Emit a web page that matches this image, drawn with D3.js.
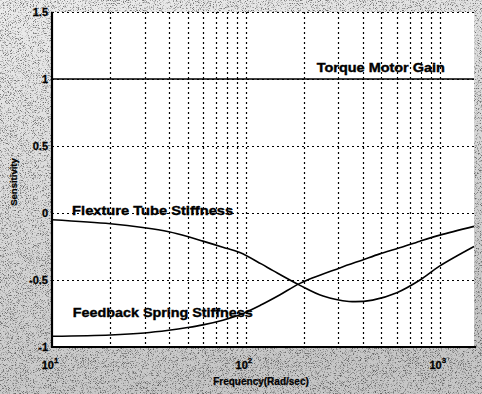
<!DOCTYPE html>
<html>
<head>
<meta charset="utf-8">
<script src="https://cdn.jsdelivr.net/npm/d3@7"></script>
<style>
  html, body { margin: 0; padding: 0; background: #d4d4d4; }
  svg { display: block; }
  text { font-family: "Liberation Sans", Arial, sans-serif; font-weight: bold; fill: #000; }
</style>
</head>
<body>
<svg id="chart" width="482" height="394"></svg>
<script>
// Sensitivity of the servo-valve gain to each parameter versus frequency
const flexFreq = [10, 20, 30, 40, 50, 60, 76, 93, 120, 138, 190, 250, 340, 450, 600, 790, 1000, 1500];
const flexVals = [-0.05, -0.08, -0.11, -0.14, -0.175, -0.21, -0.255, -0.295, -0.38, -0.43, -0.54, -0.62, -0.66, -0.65, -0.595, -0.50, -0.395, -0.25];

const springFreq = [10, 20, 30, 40, 50, 60, 76, 93, 120, 150, 190, 305, 400, 490, 620, 790, 1000, 1500];
const springVals = [-0.92, -0.91, -0.895, -0.875, -0.855, -0.835, -0.80, -0.76, -0.685, -0.61, -0.525, -0.41, -0.35, -0.305, -0.26, -0.21, -0.165, -0.10];

const torqueFreq = [10, 1500];
const torqueVals = [1, 1];

const yTicks = [1.5, 1, 0.5, 0, -0.5, -1];
const yTickLabels = ["1.5", "1", "0.5", "0", "-0.5", "-1"];
const xDecades = [10, 100, 1000];
const xDecadeExp = ["1", "2", "3"];
const xGrid = [20, 30, 40, 50, 60, 70, 80, 90, 100, 200, 300, 400, 500, 600, 700, 800, 900, 1000];

const seriesLabels = [
  { text: "Torque Motor Gain", f: 232, v: 1.052, w: 128 },
  { text: "Flexture Tube Stiffness", f: 12.7, v: -0.015, w: 161 },
  { text: "Feedback Spring Stiffness", f: 12.8, v: -0.776, w: 180 }
];

const svg = d3.select("#chart");
const W = 482, H = 394;
const m = { left: 52, right: 474, top: 12, bottom: 347 };

const x = d3.scaleLog().domain([10, 1500]).range([m.left, m.right]);
const y = d3.scaleLinear().domain([-1, 1.5]).range([m.bottom, m.top]);

// figure background with a grainy grey tone
const defs = svg.append("defs");
const grad = defs.append("linearGradient").attr("id", "bg").attr("x1", 0).attr("y1", 0).attr("x2", 0.3).attr("y2", 1);
grad.append("stop").attr("offset", "0").attr("stop-color", "#ececec");
grad.append("stop").attr("offset", "1").attr("stop-color", "#c6c6c6");
const grain = defs.append("filter").attr("id", "grain").attr("x", 0).attr("y", 0).attr("width", 1).attr("height", 1);
grain.append("feTurbulence").attr("type", "fractalNoise").attr("baseFrequency", 1.4).attr("numOctaves", 1).attr("seed", 7).attr("result", "n");
grain.append("feColorMatrix").attr("in", "n").attr("type", "matrix")
  .attr("values", "0 0 0 0 0  0 0 0 0 0  0 0 0 0 0  5 0 0 0 -2.6");

svg.append("rect").attr("width", W).attr("height", H).attr("fill", "url(#bg)");
svg.append("rect").attr("width", W).attr("height", H).attr("filter", "url(#grain)").attr("opacity", 0.5);

// plotting area
svg.append("rect")
  .attr("x", m.left).attr("y", m.top)
  .attr("width", m.right - m.left).attr("height", m.bottom - m.top)
  .attr("fill", "#fff");

// dotted grid
const grid = svg.append("g").attr("stroke", "#000").attr("stroke-width", 1.2).attr("stroke-dasharray", "2,3");
grid.selectAll("line.v").data(xGrid).join("line")
  .attr("x1", d => Math.round(x(d)) + 0.5).attr("x2", d => Math.round(x(d)) + 0.5)
  .attr("y1", m.top).attr("y2", m.bottom);
grid.selectAll("line.h").data(yTicks.filter(d => d > -1)).join("line")
  .attr("x1", m.left).attr("x2", m.right)
  .attr("y1", d => Math.round(y(d)) + 0.5).attr("y2", d => Math.round(y(d)) + 0.5);

// curves
const line = d3.line().x(d => x(d[0])).y(d => y(d[1])).curve(d3.curveCatmullRom.alpha(0.5));
const curves = [
  d3.zip(torqueFreq, torqueVals),
  d3.zip(flexFreq, flexVals),
  d3.zip(springFreq, springVals)
];
svg.append("g").selectAll("path").data(curves).join("path")
  .attr("d", line).attr("fill", "none").attr("stroke", "#000").attr("stroke-width", 1.6);

// axes lines
svg.append("line").attr("x1", m.left).attr("x2", m.left).attr("y1", m.top).attr("y2", m.bottom + 1)
  .attr("stroke", "#000").attr("stroke-width", 2.2);
svg.append("line").attr("x1", m.left - 1).attr("x2", m.right + 2).attr("y1", m.bottom).attr("y2", m.bottom)
  .attr("stroke", "#000").attr("stroke-width", 2.2);

// y tick labels
svg.append("g").selectAll("text").data(yTicks).join("text")
  .attr("x", m.left - 4).attr("y", d => y(d) + 4)
  .attr("text-anchor", "end").attr("font-size", 11)
  .attr("stroke", "#000").attr("stroke-width", 0.3)
  .text((d, i) => yTickLabels[i]);

// x tick labels, powers of ten
const xl = svg.append("g").selectAll("text").data(xDecades).join("text")
  .attr("x", d => x(d) - 2).attr("y", 369)
  .attr("text-anchor", "middle").attr("font-size", 11)
  .attr("stroke", "#000").attr("stroke-width", 0.3);
xl.append("tspan").text("10");
xl.append("tspan").attr("font-size", 8).attr("dy", -6).text((d, i) => xDecadeExp[i]);

// axis titles
svg.append("text").attr("x", 261).attr("y", 385).attr("text-anchor", "middle")
  .attr("font-size", 10).attr("stroke", "#000").attr("stroke-width", 0.25)
  .text("Frequency(Rad/sec)");
svg.append("text").attr("transform", "translate(17,182) rotate(-90)").attr("text-anchor", "middle")
  .attr("font-size", 9.5).attr("stroke", "#000").attr("stroke-width", 0.25)
  .text("Sensitivity");

// curve labels
svg.append("g").selectAll("text").data(seriesLabels).join("text")
  .attr("x", d => x(d.f)).attr("y", d => y(d.v))
  .attr("font-size", 13)
  .attr("stroke", "#000").attr("stroke-width", 0.4)
  .attr("textLength", d => d.w).attr("lengthAdjust", "spacingAndGlyphs")
  .text(d => d.text);
</script>
</body>
</html>
